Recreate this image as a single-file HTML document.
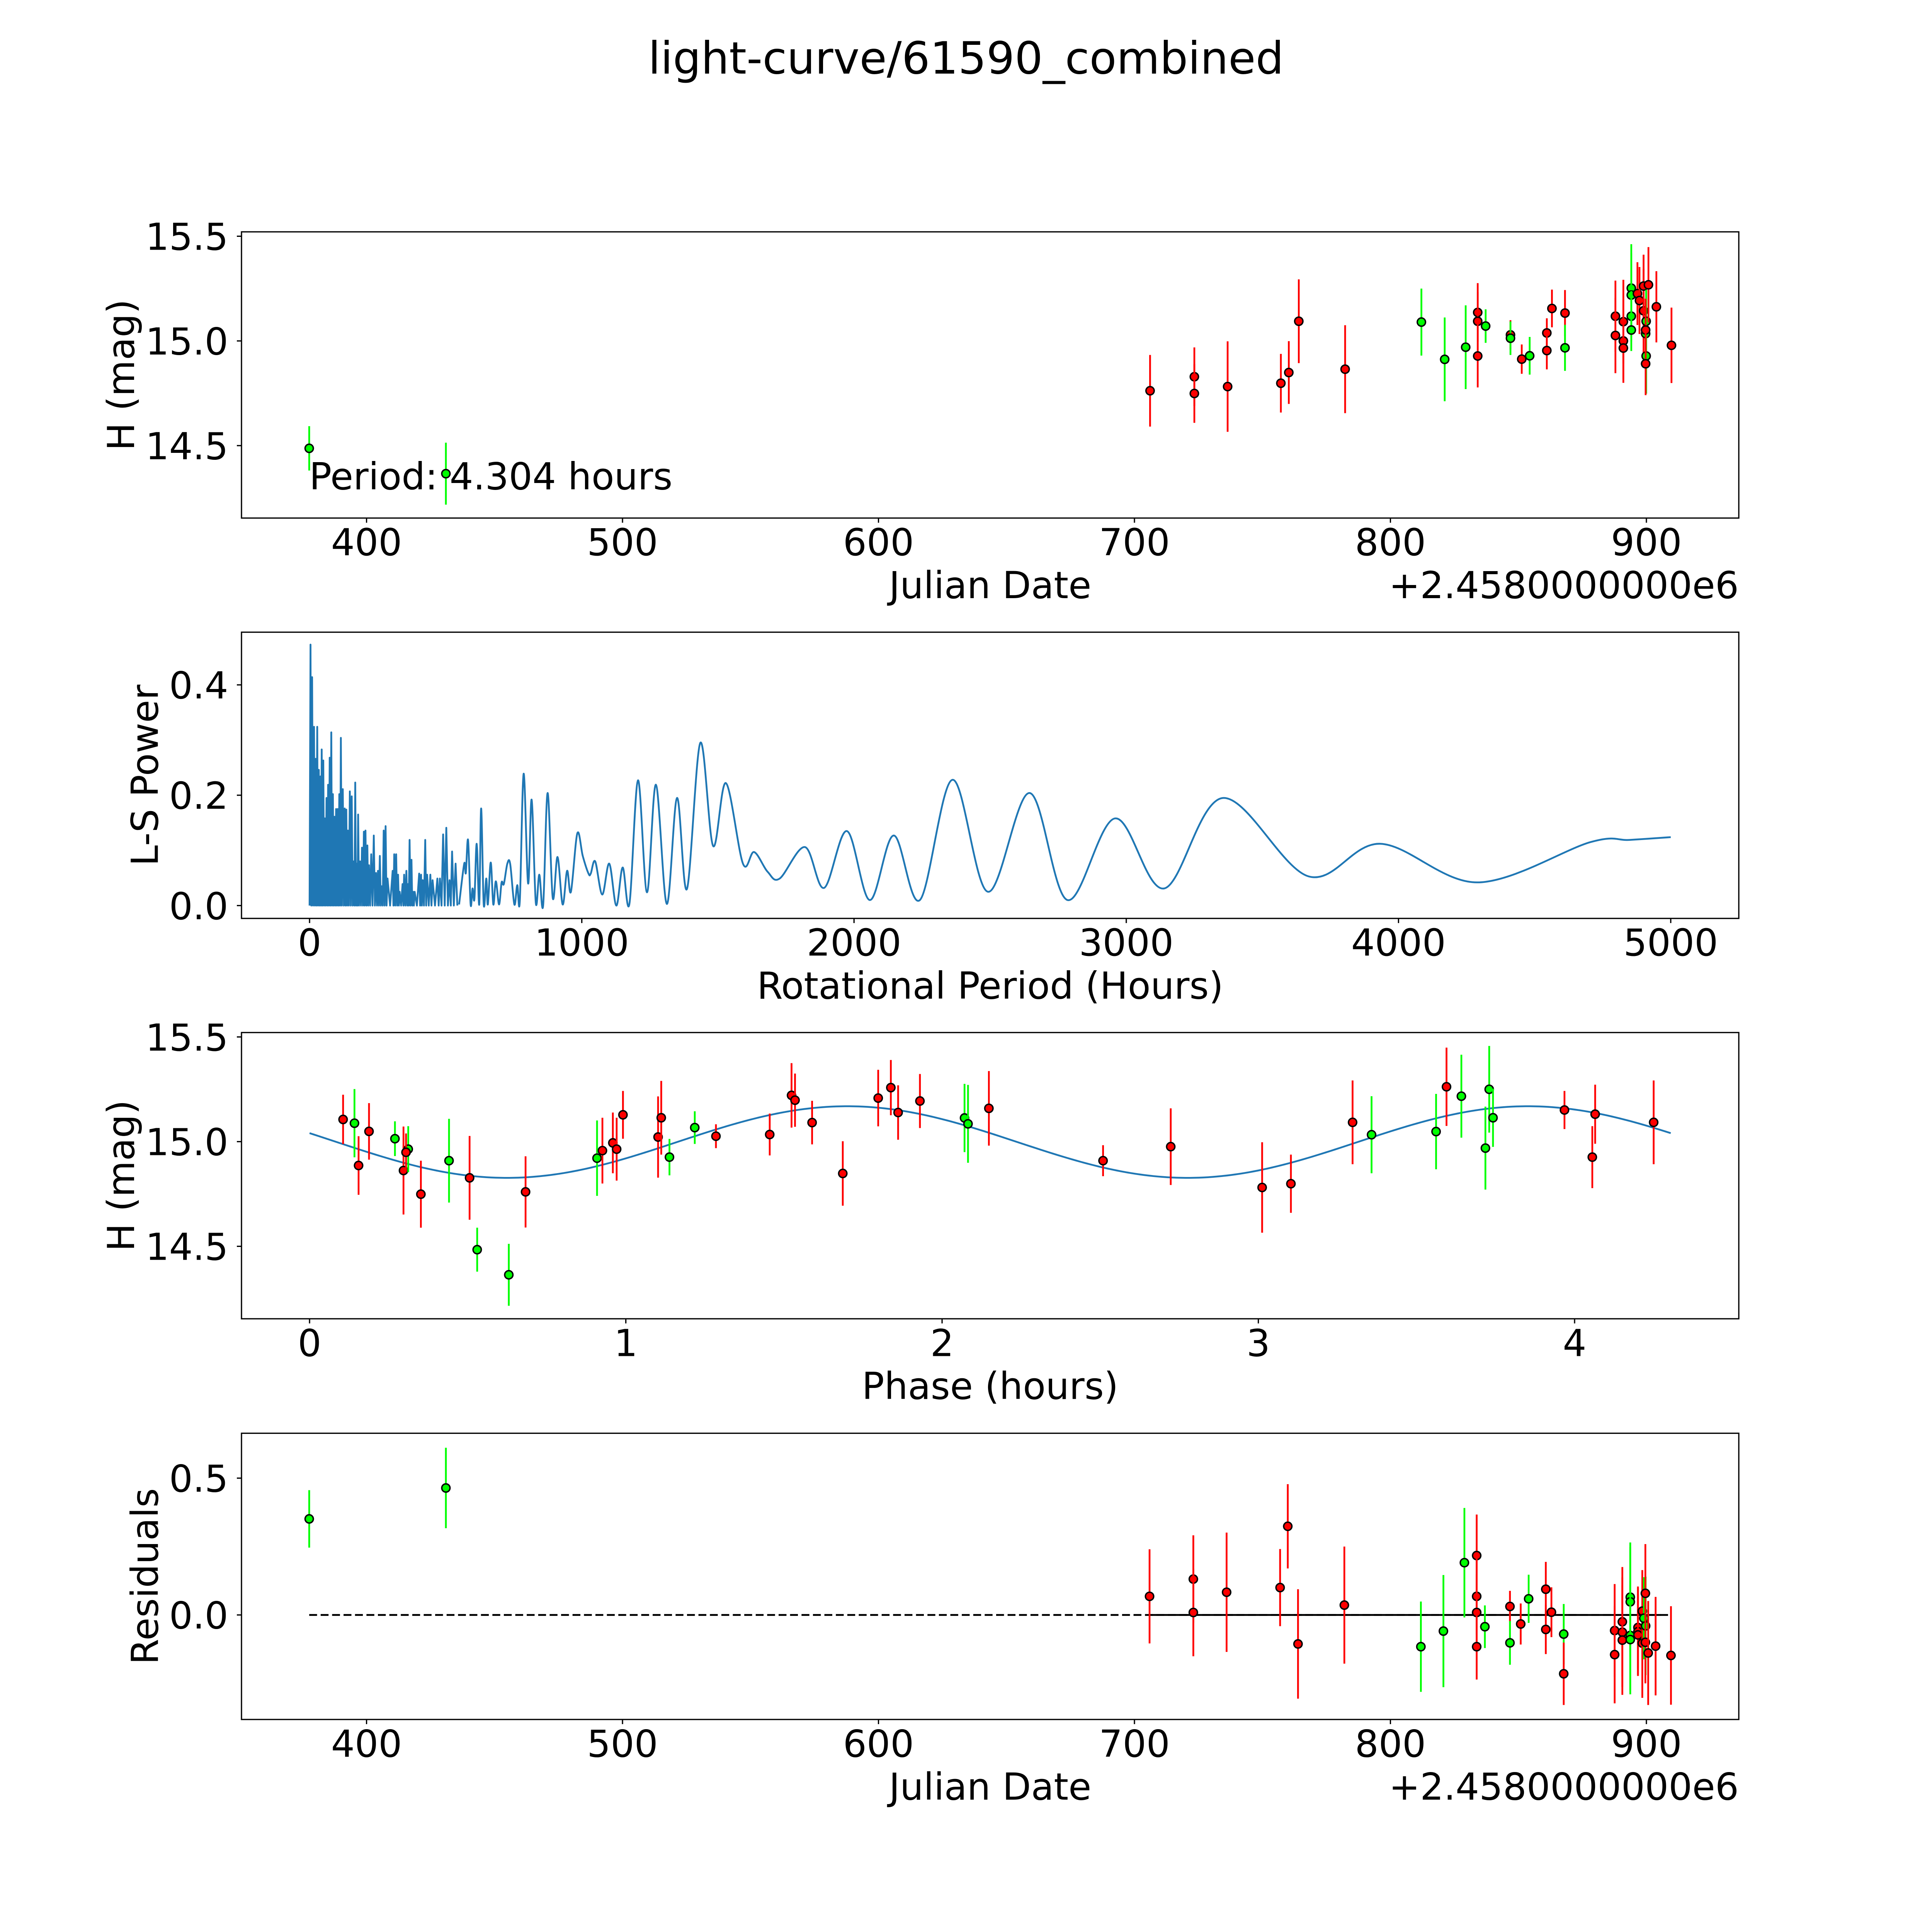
<!DOCTYPE html>
<html>
<head>
<meta charset="utf-8">
<meta name="viewport" content="width=5400, initial-scale=1">
<style>
  html,body{margin:0;padding:0;background:#fff;overflow:hidden;width:100vw;height:100vh;}
  svg{display:block;width:100vw;height:100vh;}
  text{font-family:"DejaVu Sans","Liberation Sans",sans-serif;fill:#000;}
</style>
</head>
<body>
<svg id="fig" xmlns="http://www.w3.org/2000/svg" viewBox="0 0 5400 5400" preserveAspectRatio="xMidYMid meet">
  <rect x="0" y="0" width="5400" height="5400" fill="#fff"/>
  <text x="2700" y="206" font-size="124" text-anchor="middle">light-curve/61590_combined</text>
</svg>
<script>
// ---------- Panel 1: light curve vs Julian Date ----------
const lcDay = [377.6,431.0,706.1,723.4,723.4,736.4,757.2,760.3,764.2,782.3,812.1,821.2,829.4,834.1,834.1,834.1,837.2,846.9,846.9,851.3,854.4,861.1,861.1,863.1,868.2,868.2,887.9,887.9,891.0,891.0,891.0,894.1,894.1,894.1,894.1,896.5,897.3,898.9,898.9,899.7,899.9,899.9,899.7,899.7,900.8,903.9,909.8];
const lcMag = [14.487,14.366,14.762,14.829,14.749,14.782,14.798,14.849,15.094,14.865,15.09,14.912,14.97,15.136,15.094,14.928,15.071,15.029,15.013,14.913,14.929,15.038,14.954,15.155,15.133,14.967,15.118,15.026,15.092,15.0,14.966,15.252,15.219,15.118,15.052,15.226,15.193,15.144,15.262,15.035,15.094,14.928,15.052,14.891,15.268,15.163,14.979];
const lcErr = [0.106,0.148,0.171,0.14,0.14,0.216,0.14,0.15,0.2,0.21,0.16,0.2,0.2,0.14,0.14,0.15,0.08,0.07,0.08,0.07,0.09,0.07,0.09,0.09,0.11,0.11,0.17,0.18,0.2,0.2,0.15,0.21,0.2,0.12,0.1,0.15,0.16,0.2,0.15,0.15,0.15,0.18,0.15,0.15,0.18,0.17,0.18];
const lcBand = ['g','g','r','r','r','r','r','r','r','r','g','g','g','r','r','r','g','r','g','r','g','r','r','r','r','g','r','r','r','r','r','g','g','g','g','r','r','r','r','g','g','g','r','r','r','r','r'];
const periodLabel = "Period: 4.304 hours";

// ---------- Panel 2: Lomb-Scargle periodogram ----------
const spikeP = [3.5,9.4,16.4,22.3,28.2,34.0,39.9,44.6,50.5,56.3,62.2,68.1,73.9,79.8,85.7,91.5,97.4,103.3,109.2,115.0,122.1,129.1,135.0,140.8,147.9,154.9,162.0,167.8,173.7,178.4,185.4,192.5,199.5,205.4,212.4,218.3,226.5,235.9,244.1,251.2,258.2,265.3,272.3,279.3,286.4,305.2,311.0,318.1,325.1,331.0,341.6,347.4,355.6,361.5,367.4,374.4,380.3,386.1,402.6,409.6,415.5,424.9,431.9,443.7,451.9,469.5,478.9,490.6,502.3,514.1,523.5,536.4];
const spikeH = [0.473,0.414,0.324,0.266,0.324,0.246,0.234,0.283,0.263,0.158,0.195,0.219,0.268,0.314,0.202,0.161,0.175,0.175,0.202,0.304,0.211,0.176,0.174,0.136,0.207,0.198,0.080,0.223,0.076,0.165,0.080,0.105,0.134,0.136,0.109,0.073,0.093,0.127,0.059,0.063,0.090,0.035,0.136,0.144,0.049,0.063,0.093,0.093,0.056,0.025,0.039,0.056,0.063,0.039,0.119,0.083,0.025,0.025,0.058,0.056,0.046,0.119,0.056,0.056,0.046,0.049,0.049,0.129,0.141,0.046,0.098,0.076];
const lsP = [549.3,568.1,574.0,582.2,591.6,598.6,605.6,613.9,623.3,630.3,639.7,649.1,654.9,665.5,674.9,684.3,696.0,705.4,713.6,726.5,737.1,752.3,762.9,772.3,786.4,802.8,815.7,831.0,843.9,858.0,874.4,893.2,910.8,929.6,946.0,960.1,983.6,1003.5,1024.6,1032.9,1049.3,1075.1,1100.9,1126.8,1150.2,1174.9,1206.5,1239.4,1272.3,1312.2,1349.8,1386.2,1435.4,1482.4,1529.3,1592,1633,1683,1727,1820,1890,1974,2058,2146,2242,2362,2492,2645,2784,2959,3139,3355,3669,3933,4290,4705,4849,5000];
const lsPow = [0.002,0.076,0.059,0.119,0.002,0.031,0.012,0.112,0.002,0.176,0.002,0.049,0.002,0.078,0.002,0.044,0.002,0.042,0.039,0.076,0.075,0.002,0.037,0.008,0.239,0.040,0.192,0.005,0.056,0.000,0.204,0.014,0.088,0.002,0.063,0.025,0.131,0.090,0.058,0.058,0.080,0.020,0.076,0.000,0.069,0.003,0.227,0.024,0.219,0.003,0.195,0.030,0.295,0.108,0.222,0.076,0.097,0.061,0.049,0.106,0.032,0.135,0.010,0.127,0.010,0.228,0.025,0.204,0.010,0.158,0.031,0.195,0.053,0.112,0.042,0.115,0.119,0.124];

// ---------- Panel 3: phased light curve ----------
const phHour = [0.106,0.142,0.155,0.188,0.270,0.297,0.312,0.305,0.352,0.441,0.506,0.530,0.630,0.683,0.909,0.926,0.959,0.971,0.991,1.102,1.112,1.138,1.218,1.285,1.455,1.524,1.535,1.589,1.686,1.798,1.838,1.861,1.930,2.071,2.082,2.148,2.509,2.723,3.012,3.103,3.298,3.358,3.562,3.595,3.642,3.718,3.730,3.742,3.968,4.056,4.065,4.250];
const phMag = [15.106,15.088,14.886,15.049,15.014,14.862,14.964,14.949,14.749,14.909,14.827,14.484,14.364,14.760,14.921,14.957,14.994,14.964,15.128,15.022,15.114,14.926,15.067,15.026,15.034,15.221,15.198,15.091,14.848,15.208,15.258,15.139,15.194,15.113,15.085,15.159,14.909,14.976,14.781,14.799,15.092,15.033,15.048,15.262,15.217,14.969,15.250,15.114,15.151,14.926,15.131,15.092];
const phErr = [0.118,0.163,0.14,0.135,0.083,0.21,0.11,0.09,0.16,0.2,0.2,0.105,0.148,0.17,0.18,0.157,0.145,0.15,0.114,0.194,0.176,0.087,0.078,0.057,0.1,0.154,0.127,0.104,0.154,0.135,0.132,0.13,0.129,0.163,0.186,0.178,0.074,0.183,0.216,0.139,0.2,0.184,0.18,0.187,0.198,0.198,0.207,0.139,0.091,0.148,0.141,0.2];
const phBand = ['r','g','r','r','g','r','g','r','r','g','r','g','g','r','g','r','r','r','r','r','r','g','g','r','r','r','r','r','r','r','r','r','r','g','g','r','r','r','r','r','r','g','g','r','g','g','g','g','r','r','r','r'];
const fitMean = [14.998];
const fitAmp = [0.171];
const fitPeakPhase = [1.70];
const fitPeriod = [4.304];

// ---------- Panel 4: residuals ----------
const resDay = [377.6,431.0,705.9,723.0,723.0,736.0,756.9,759.9,763.9,782.0,811.9,820.7,828.9,833.7,833.7,833.7,833.7,836.9,846.7,846.7,850.9,854.0,860.7,860.7,862.9,867.7,867.7,887.6,887.6,890.6,890.6,890.6,893.7,893.7,893.7,893.7,896.7,896.7,896.7,898.4,898.4,899.0,899.7,899.6,899.6,900.7,903.6,909.6];
const resVal = [0.351,0.464,0.068,0.131,0.009,0.083,0.10,0.324,-0.106,0.036,-0.116,-0.059,0.191,0.217,0.068,0.009,-0.116,-0.043,0.031,-0.102,-0.033,0.059,0.094,-0.053,0.01,-0.07,-0.215,-0.057,-0.145,-0.025,-0.063,-0.092,0.065,0.048,-0.075,-0.09,-0.046,-0.061,-0.073,-0.103,0.014,-0.012,-0.04,0.079,-0.1,-0.139,-0.114,-0.148];
const resErr = [0.105,0.147,0.172,0.16,0.16,0.218,0.141,0.154,0.2,0.214,0.165,0.205,0.2,0.15,0.14,0.14,0.12,0.078,0.057,0.08,0.075,0.088,0.1,0.09,0.091,0.11,0.114,0.17,0.178,0.2,0.2,0.2,0.2,0.2,0.2,0.2,0.15,0.16,0.15,0.2,0.15,0.15,0.18,0.18,0.15,0.19,0.18,0.18];
const resBand = ['g','g','r','r','r','r','r','r','r','r','g','g','g','r','r','r','r','g','r','g','r','g','r','r','r','g','r','r','r','r','r','r','g','g','g','g','r','r','r','r','r','g','g','r','r','r','r','r'];
const zeroLineDays = [377.6, 909.8];
const solidLineDays = [705.9, 905.7];

// ---------- rendering ----------
const NS = "http://www.w3.org/2000/svg";
const svg = document.getElementById('fig');
const L = 675, R = 4860;
const COLORS = {r:'#ff0000', g:'#00ff00'};
const BLUE = '#1f77b4';

function mk(tag, attrs, parent){
  const e = document.createElementNS(NS, tag);
  for (const k in attrs) e.setAttribute(k, attrs[k]);
  (parent||svg).appendChild(e);
  return e;
}
function axis(top, bottom, xlim, ylim){
  return {
    top, bottom,
    x: v => L + (v - xlim[0]) / (xlim[1] - xlim[0]) * (R - L),
    y: v => bottom - (v - ylim[0]) / (ylim[1] - ylim[0]) * (bottom - top)
  };
}
function frame(ax, name, xticks, xfmt, yticks, yfmt, xlabel, ylabel, ylabelX, offsetText){
  const g = mk('g', {});
  
  
  xticks.forEach(t => {
    const X = ax.x(t);
    mk('line', {x1:X, x2:X, y1:ax.bottom, y2:ax.bottom+13, stroke:'#000','stroke-width':3.5}, g);
    const tx = mk('text', {x:X, y:ax.bottom+104, 'font-size':104, 'text-anchor':'middle'}, g);
    
    
    tx.textContent = xfmt(t);
  });
  yticks.forEach(t => {
    const Y = ax.y(t);
    mk('line', {x1:L-13, x2:L, y1:Y, y2:Y, stroke:'#000','stroke-width':3.5}, g);
    const tx = mk('text', {x:638, y:Y+38, 'font-size':104, 'text-anchor':'end'}, g);
    
    
    tx.textContent = yfmt(t);
  });
  const xl = mk('text', {x:(L+R)/2, y:ax.bottom+224, 'font-size':104, 'text-anchor':'middle'}, g);
  
  
  xl.textContent = xlabel;
  const cy = (ax.top+ax.bottom)/2;
  const yl = mk('text', {x:ylabelX, y:cy, 'font-size':104, 'text-anchor':'middle', transform:`rotate(-90 ${ylabelX} ${cy})`}, g);
  
  
  yl.textContent = ylabel;
  if (offsetText){
    const ot = mk('text', {x:R, y:ax.bottom+224, 'font-size':104, 'text-anchor':'end'}, g);
    
    
    ot.textContent = offsetText;
  }
}
function border(ax, name){
  const b = mk('rect', {x:L, y:ax.top, width:R-L, height:ax.bottom-ax.top, fill:'none', stroke:'#000', 'stroke-width':3.5});
  
  
}
function clipFor(ax, id){
  const cp = mk('clipPath', {id});
  mk('rect', {x:L, y:ax.top, width:R-L, height:ax.bottom-ax.top}, cp);
  return `url(#${id})`;
}
function errPoints(ax, xs, ys, es, bands, name, clip){
  const g = mk('g', {'clip-path':clip});
  
  
  for (let i=0;i<xs.length;i++){
    const X = ax.x(xs[i]);
    const eb = mk('line', {x1:X, x2:X, y1:ax.y(ys[i]-es[i]), y2:ax.y(ys[i]+es[i]), stroke:COLORS[bands[i]], 'stroke-width':5}, g);
    
    
    const c = mk('circle', {cx:X, cy:ax.y(ys[i]), r:11.5, fill:COLORS[bands[i]], stroke:'#000', 'stroke-width':4}, g);
    
    
  }
}
function catmull(pts){
  let d = `M${pts[0][0]},${pts[0][1]}`;
  for (let i=0;i<pts.length-1;i++){
    const p0 = pts[Math.max(0,i-1)], p1 = pts[i], p2 = pts[i+1], p3 = pts[Math.min(pts.length-1,i+2)];
    const c1 = [p1[0]+(p2[0]-p0[0])/6, p1[1]+(p2[1]-p0[1])/6];
    const c2 = [p2[0]-(p3[0]-p1[0])/6, p2[1]-(p3[1]-p1[1])/6];
    d += ` C${c1[0]},${c1[1]} ${c2[0]},${c2[1]} ${p2[0]},${p2[1]}`;
  }
  return d;
}

// Panel 1
const ax1 = axis(648, 1448, [351.15, 936.1], [14.154, 15.521]);
errPoints(ax1, lcDay, lcMag, lcErr, lcBand, 'light-curve-points', clipFor(ax1,'c1'));
const pl = mk('text', {x:ax1.x(lcDay[0]), y:1368, 'font-size':104});


pl.textContent = periodLabel;
frame(ax1, 'light-curve-axes', [400,500,600,700,800,900], t=>String(t), [14.5,15.0,15.5], t=>t.toFixed(1), 'Julian Date', 'H (mag)', 375, '+2.4580000000e6');
border(ax1, 'light-curve-frame');

// Panel 2
const ax2 = axis(1767, 2567, [-250, 5250], [-0.0233, 0.4955]);
{
  let d = `M${ax2.x(0)},${ax2.y(0)}`;
  for (let i=0;i<spikeP.length;i++){
    d += ` L${ax2.x(spikeP[i])},${ax2.y(spikeH[i])}`;
    const next = i+1<spikeP.length ? spikeP[i+1] : lsP[0];
    d += ` L${ax2.x((spikeP[i]+next)/2)},${ax2.y(0)}`;
  }
  const pts = lsP.map((p,i)=>[ax2.x(p), ax2.y(lsPow[i])]);
  const dense = mk('path', {d, fill:'none', stroke:BLUE, 'stroke-width':5, 'stroke-linejoin':'round'});
  
  
  const sm = mk('path', {d:catmull(pts), fill:'none', stroke:BLUE, 'stroke-width':5, 'stroke-linejoin':'round'});
  
  
}
frame(ax2, 'periodogram-axes', [0,1000,2000,3000,4000,5000], t=>String(t), [0.0,0.2,0.4], t=>t.toFixed(1), 'Rotational Period (Hours)', 'L-S Power', 441, null);
border(ax2, 'periodogram-frame');

// Panel 3
const ax3 = axis(2886, 3686, [-0.2152, 4.5192], [14.154, 15.521]);
{
  const pts = [];
  const half = fitPeriod[0]/2;
  for (let k=0;k<=300;k++){
    const ph = fitPeriod[0]*k/300;
    const m = fitMean[0] + fitAmp[0]*Math.cos(2*Math.PI*(ph - fitPeakPhase[0])/half);
    pts.push(`${ax3.x(ph)},${ax3.y(m)}`);
  }
  const fl = mk('polyline', {points:pts.join(' '), fill:'none', stroke:BLUE, 'stroke-width':5});
  
  
}
errPoints(ax3, phHour, phMag, phErr, phBand, 'phased-points', clipFor(ax3,'c3'));
frame(ax3, 'phase-axes', [0,1,2,3,4], t=>String(t), [14.5,15.0,15.5], t=>t.toFixed(1), 'Phase (hours)', 'H (mag)', 375, null);
border(ax3, 'phase-frame');

// Panel 4
const ax4 = axis(4006, 4806, [351.15, 936.1], [-0.382, 0.664]);
{
  const zl = mk('line', {x1:ax4.x(zeroLineDays[0]), x2:ax4.x(zeroLineDays[1]), y1:ax4.y(0), y2:ax4.y(0), stroke:'#000', 'stroke-width':5.2, 'stroke-dasharray':'22 10'});
  
  
  const sl = mk('line', {x1:ax4.x(solidLineDays[0]), x2:ax4.x(solidLineDays[1]), y1:ax4.y(0), y2:ax4.y(0), stroke:'#000', 'stroke-width':5.2});
  
  
}
errPoints(ax4, resDay, resVal, resErr, resBand, 'residual-points', clipFor(ax4,'c4'));
frame(ax4, 'residuals-axes', [400,500,600,700,800,900], t=>String(t), [0.0,0.5], t=>t.toFixed(1), 'Julian Date', 'Residuals', 441, '+2.4580000000e6');
border(ax4, 'residuals-frame');
</script>
</body>
</html>
